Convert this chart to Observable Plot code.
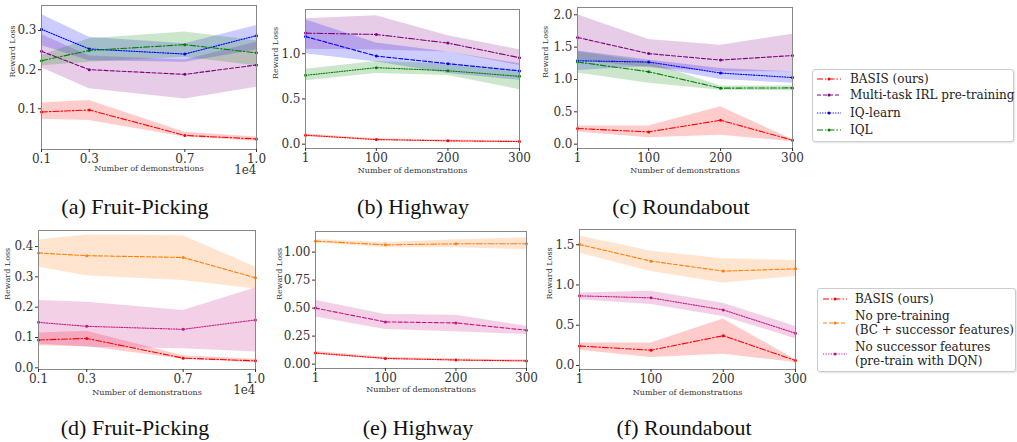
<!DOCTYPE html>
<html><head><meta charset="utf-8">
<script src="https://cdn.jsdelivr.net/npm/d3@7"></script>
<script src="https://cdn.jsdelivr.net/npm/@observablehq/plot@0.6"></script>
<style>
body{margin:0;background:#fff;}
#fig{position:relative;width:1017px;height:442px;overflow:hidden;font-family:"DejaVu Serif","Liberation Serif",serif;}
.panel{position:absolute;}
.cap{position:absolute;font-family:"Liberation Serif","Times New Roman",serif;font-size:22px;color:#111;white-space:nowrap;transform:translate(-50%,-50%);}
.legend{position:absolute;border:1px solid #ccc;border-radius:3px;background:#fff;box-shadow:1px 1px 2px rgba(0,0,0,0.12);font-family:"DejaVu Serif","Liberation Serif",serif;font-size:12px;color:#222;}
.legend .row{position:absolute;white-space:nowrap;}
.legend svg{position:absolute;}
</style></head><body><div id="fig"></div>
<script>
// x values
const xFruit = [0.1, 0.3, 0.7, 1.0];
const xDemo = [1, 100, 200, 300];
const xFruitTicks = [0.1, 0.3, 0.7, 1.0];
const xDemoTicks = [1, 100, 200, 300];

// each entry: [mean, lower, upper]
const fruitBasis   = [[0.092,0.073,0.115],[0.097,0.070,0.121],[0.032,0.028,0.040],[0.023,0.017,0.028]];
const fruitMulti   = [[0.247,0.205,0.290],[0.200,0.151,0.235],[0.188,0.125,0.225],[0.212,0.155,0.270]];
const fruitIQLearn = [[0.303,0.262,0.341],[0.253,0.223,0.283],[0.240,0.219,0.266],[0.287,0.250,0.313]];
const fruitIQL     = [[0.223,0.210,0.236],[0.249,0.219,0.279],[0.264,0.232,0.296],[0.243,0.210,0.274]];

const hwBasis   = [[0.099,0.086,0.112],[0.051,0.041,0.061],[0.037,0.028,0.046],[0.029,0.020,0.038]];
const hwMulti   = [[1.228,1.050,1.386],[1.213,1.040,1.420],[1.118,1.020,1.200],[0.956,0.870,1.044]];
const hwIQLearn = [[1.190,1.000,1.375],[0.974,0.908,1.118],[0.890,0.780,1.020],[0.810,0.706,0.890]];
const hwIQL     = [[0.761,0.700,0.827],[0.846,0.780,0.915],[0.812,0.760,0.890],[0.750,0.603,0.816]];

const rbBasis   = [[0.242,0.190,0.280],[0.190,0.098,0.280],[0.370,0.139,0.577],[0.062,0.036,0.072]];
const rbMulti   = [[1.650,1.300,2.000],[1.400,1.180,1.620],[1.300,1.120,1.530],[1.370,1.120,1.700]];
const rbIQLearn = [[1.290,1.140,1.440],[1.270,1.200,1.300],[1.100,1.000,1.170],[1.030,0.940,1.120]];
const rbIQL     = [[1.270,1.100,1.430],[1.120,0.940,1.270],[0.866,0.835,0.900],[0.870,0.825,0.900]];

const fruitNoPre = [[0.379,0.332,0.422],[0.370,0.304,0.438],[0.364,0.288,0.436],[0.297,0.260,0.332]];
const fruitNoSF  = [[0.150,0.079,0.222],[0.137,0.068,0.216],[0.127,0.063,0.189],[0.158,0.052,0.263]];
const hwNoPre    = [[1.098,1.083,1.113],[1.065,1.039,1.086],[1.074,1.039,1.110],[1.074,1.021,1.128]];
const hwNoSF     = [[0.500,0.420,0.570],[0.377,0.309,0.442],[0.368,0.288,0.436],[0.303,0.264,0.338]];
const rbNoPre    = [[1.503,1.395,1.607],[1.296,1.168,1.420],[1.172,1.023,1.325],[1.200,1.106,1.304]];
const rbNoSF     = [[0.865,0.816,0.900],[0.840,0.758,0.923],[0.690,0.609,0.774],[0.400,0.331,0.484]];

// tick labels
const yTicksA = [0.1, 0.2, 0.3];
const yTicksB = [0.0, 0.5, 1.0];
const yTicksC = [0.0, 0.5, 1.0, 1.5, 2.0];
const yTicksD = [0.0, 0.1, 0.2, 0.3, 0.4];
const yTicksE = [0.0, 0.25, 0.5, 0.75, 1.0];
const yTicksF = [0.0, 0.5, 1.0, 1.5];

const legendTop = ["BASIS (ours)", "Multi-task IRL pre-training", "IQ-learn", "IQL"];
const legendBottom = [["BASIS (ours)"], ["No pre-training", "(BC + successor features)"], ["No successor features", "(pre-train with DQN)"]];
const captions = ["(a) Fruit-Picking", "(b) Highway", "(c) Roundabout", "(d) Fruit-Picking", "(e) Highway", "(f) Roundabout"];
const xLabel = "Number of demonstrations";
const yLabel = "Reward Loss";

const C = {red:"#ff0000", purple:"#800080", blue:"#0000ff", green:"#008000", orange:"#ff7f0e", magenta:"#c71585"};
const DASH = {dashdot:"6,2,1.5,2", dashed:"4,2", dotted:"1.2,1.4"};
const FONT = "'DejaVu Serif', 'Liberation Serif', serif";

const fig = document.getElementById("fig");

function panel(o) {
  const ml = 45, mr = 14, mt = 8, mb = 34;
  const marks = [];
  const rowsOf = s => o.x.map((xv, i) => ({x: xv, m: s.data[i][0], lo: s.data[i][1], hi: s.data[i][2]}));
  for (const s of o.series) marks.push(Plot.areaY(rowsOf(s), {x: "x", y1: "lo", y2: "hi", fill: s.color, fillOpacity: 0.2}));
  for (const s of o.series) {
    marks.push(Plot.lineY(rowsOf(s), {x: "x", y: "m", stroke: s.color, strokeWidth: 1.1, strokeDasharray: DASH[s.dash]}));
    marks.push(Plot.dot(rowsOf(s), {x: "x", y: "m", fill: s.color, r: 1.5}));
  }
  marks.push(Plot.frame({stroke: "#888"}));
  marks.push(Plot.axisX({ticks: o.xTicks, tickFormat: o.xFmt, tickSize: 3, tickPadding: 2, label: null, fontFamily: FONT}));
  marks.push(Plot.axisY({ticks: o.yTicks, tickFormat: o.yFmt, tickSize: 3, tickPadding: 2, label: null, fontFamily: FONT}));
  marks.push(Plot.text([xLabel], {text: d => d, frameAnchor: "bottom", dy: o.xlabDy, fontSize: 8, fontFamily: FONT, lineAnchor: "middle", fill: "#333"}));
  marks.push(Plot.text([yLabel], {text: d => d, frameAnchor: "left", rotate: -90, dx: -o.ylabDx, fontSize: 8, fontFamily: FONT, fill: "#333"}));
  if (o.exp) marks.push(Plot.text([o.exp], {text: d => d, frameAnchor: "bottom-right", dy: 21, textAnchor: "end", lineAnchor: "middle", fontSize: 12, fontFamily: FONT}));
  const chart = Plot.plot({
    width: o.fw + ml + mr, height: o.fh + mt + mb,
    marginLeft: ml, marginRight: mr, marginTop: mt, marginBottom: mb,
    x: {domain: o.xDomain}, y: {domain: o.yDomain},
    style: {background: "transparent", fontFamily: FONT, fontSize: "12px", color: "#333", overflow: "visible", maxWidth: "none"},
    marks
  });
  const d = document.createElement("div");
  d.className = "panel";
  d.style.left = (o.left - ml) + "px";
  d.style.top = (o.top - mt) + "px";
  d.appendChild(chart);
  fig.appendChild(d);
}

const f1 = d3.format(".1f"), f2 = d3.format(".2f"), fd = d3.format("d");

panel({left: 41, top: 5, fw: 215, fh: 144, x: xFruit, xDomain: [0.1, 1.0], xTicks: xFruitTicks, xFmt: f1, yDomain: [-0.004, 0.364], yTicks: yTicksA, yFmt: f1, exp: "1e4", xlabDy: 19, ylabDx: 29,
  series: [{data: fruitBasis, color: C.red, dash: "dashdot"}, {data: fruitMulti, color: C.purple, dash: "dashed"}, {data: fruitIQLearn, color: C.blue, dash: "dotted"}, {data: fruitIQL, color: C.green, dash: "dashdot"}]});
panel({left: 305, top: 9, fw: 214, fh: 139, x: xDemo, xDomain: [1, 300], xTicks: xDemoTicks, xFmt: fd, yDomain: [-0.048, 1.489], yTicks: yTicksB, yFmt: f1, xlabDy: 22, ylabDx: 30,
  series: [{data: hwBasis, color: C.red, dash: "dotted"}, {data: hwMulti, color: C.purple, dash: "dashdot"}, {data: hwIQLearn, color: C.blue, dash: "dashed"}, {data: hwIQL, color: C.green, dash: "dotted"}]});
panel({left: 577, top: 7, fw: 215, fh: 141, x: xDemo, xDomain: [1, 300], xTicks: xDemoTicks, xFmt: fd, yDomain: [-0.067, 2.113], yTicks: yTicksC, yFmt: f1, xlabDy: 22, ylabDx: 32,
  series: [{data: rbBasis, color: C.red, dash: "dashdot"}, {data: rbMulti, color: C.purple, dash: "dashed"}, {data: rbIQLearn, color: C.blue, dash: "dotted"}, {data: rbIQL, color: C.green, dash: "dashdot"}]});
panel({left: 38, top: 230, fw: 217, fh: 139, x: xFruit, xDomain: [0.1, 1.0], xTicks: xFruitTicks, xFmt: f1, yDomain: [-0.0055, 0.453], yTicks: yTicksD, yFmt: f1, exp: "1e4", xlabDy: 23, ylabDx: 31,
  series: [{data: fruitBasis, color: C.red, dash: "dashdot"}, {data: fruitNoPre, color: C.orange, dash: "dashed"}, {data: fruitNoSF, color: C.magenta, dash: "dotted"}]});
panel({left: 315, top: 231, fw: 211, fh: 137, x: xDemo, xDomain: [1, 300], xTicks: xDemoTicks, xFmt: fd, yDomain: [-0.039, 1.184], yTicks: yTicksE, yFmt: f2, xlabDy: 21, ylabDx: 36,
  series: [{data: hwBasis, color: C.red, dash: "dotted"}, {data: hwNoPre, color: C.orange, dash: "dashdot"}, {data: hwNoSF, color: C.magenta, dash: "dashed"}]});
panel({left: 579, top: 229, fw: 216, fh: 140, x: xDemo, xDomain: [1, 300], xTicks: xDemoTicks, xFmt: fd, yDomain: [-0.05, 1.689], yTicks: yTicksF, yFmt: f1, xlabDy: 23, ylabDx: 30,
  series: [{data: rbBasis, color: C.red, dash: "dashdot"}, {data: rbNoPre, color: C.orange, dash: "dashed"}, {data: rbNoSF, color: C.magenta, dash: "dotted"}]});

// captions
const capPos = [[135, 207], [413, 207], [681, 207], [135, 428], [418, 428], [684, 428]];
captions.forEach((t, i) => {
  const d = document.createElement("div");
  d.className = "cap"; d.textContent = t;
  d.style.left = capPos[i][0] + "px"; d.style.top = capPos[i][1] + "px";
  fig.appendChild(d);
});

// legends
function sample(color, dash) {
  return `<svg width="26" height="8" viewBox="0 0 26 8"><line x1="1" y1="4" x2="25" y2="4" stroke="${color}" stroke-width="1.2" stroke-dasharray="${DASH[dash]}"/><circle cx="13" cy="4" r="1.5" fill="${color}"/></svg>`;
}
function legend(box, items) {
  const L = document.createElement("div");
  L.className = "legend";
  Object.assign(L.style, {left: box.left + "px", top: box.top + "px", width: box.w + "px", height: box.h + "px"});
  let html = "";
  for (const it of items) {
    html += `<div class="row" style="left:${box.sx}px;top:${it.sy - 4}px">${sample(it.color, it.dash)}</div>`;
    it.lines.forEach((t, j) => {
      html += `<div class="row" style="left:${box.tx}px;top:${it.ty + j * 14 - 7}px;line-height:14px">${t}</div>`;
    });
  }
  L.innerHTML = html;
  fig.appendChild(L);
}
const topColors = [[C.red, "dashdot"], [C.purple, "dashed"], [C.blue, "dotted"], [C.green, "dashdot"]];
const topY = [9, 25, 43, 60];
legend({left: 812, top: 69, w: 200, h: 71, sx: 3, tx: 37},
  legendTop.map((t, i) => ({lines: [t], color: topColors[i][0], dash: topColors[i][1], sy: topY[i], ty: topY[i]})));
const botColors = [[C.red, "dashdot"], [C.orange, "dashed"], [C.magenta, "dotted"]];
const botY = [[10, 10], [34, 27], [65, 58]];
legend({left: 817, top: 288, w: 197, h: 82, sx: 4, tx: 37},
  legendBottom.map((t, i) => ({lines: t, color: botColors[i][0], dash: botColors[i][1], sy: botY[i][0], ty: botY[i][1]})));
</script>
</body></html>
